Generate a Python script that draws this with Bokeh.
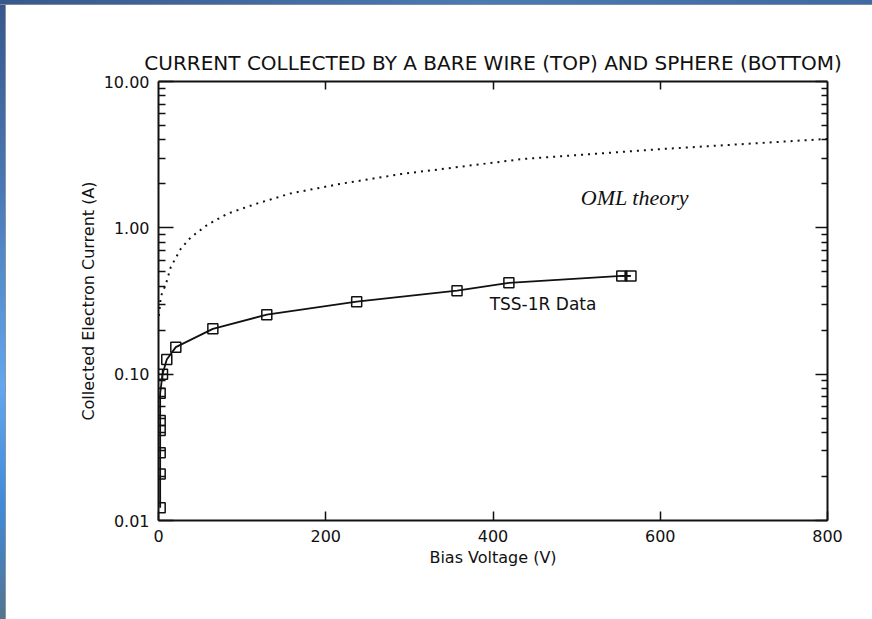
from bokeh.plotting import figure
from bokeh.models import LogAxis, LinearAxis, FixedTicker, PrintfTickFormatter, Label, Div, Range1d
from bokeh.layouts import row, column
from bokeh.embed import file_html
from bokeh.resources import INLINE

# TSS-1R measured current vs. bias voltage
tss_voltage = [2, 2, 2, 2, 2, 2, 4.8, 9.9, 20.7, 65, 129.5, 237, 357, 419, 554, 565]
tss_current = [0.0122, 0.0208, 0.029, 0.0412, 0.0482, 0.074, 0.100, 0.126, 0.153,
               0.204, 0.255, 0.313, 0.372, 0.421, 0.469, 0.469]
# points carrying an error cross
cross_voltage = [4.8, 558]
cross_current = [0.100, 0.469]

# OML theory curve
oml_voltage = [0.5, 2.75, 8.7, 14.7, 26.7, 38.6, 58.6, 82.5, 118.4, 158.2, 218, 290,
               437, 600, 784, 800]
oml_current = [0.25, 0.34, 0.41, 0.54, 0.72, 0.86, 1.05, 1.25, 1.47, 1.72, 2.0, 2.33,
               2.96, 3.45, 4.0, 4.05]

x_ticks = [0, 200, 400, 600, 800]
top_ticks = [200, 400, 600]
y_ticks = [0.01, 0.1, 1, 10]
y_minor = [k * d for d in (0.01, 0.1, 1) for k in range(2, 10)]

FONT = "DejaVu Sans"
INK = "#111111"

p = figure(frame_width=669, frame_height=439,
           x_range=Range1d(0, 800), y_range=Range1d(0.01, 10), y_axis_type="log",
           x_axis_location=None, y_axis_location=None,
           min_border_left=152, min_border_right=45, min_border_top=76, min_border_bottom=99,
           output_backend="svg", toolbar_location=None, margin=0,
           title="CURRENT COLLECTED BY A BARE WIRE (TOP) AND SPHERE (BOTTOM)")
p.outline_line_color = None
p.grid.visible = False
p.background_fill_color = "white"
p.border_fill_color = "white"
p.title.align = "center"
p.title.text_font = FONT
p.title.text_font_size = "20px"
p.title.text_font_style = "normal"
p.title.text_color = INK
p.title.standoff = 13


def style_axis(ax, tick_in, minor_in, show_labels):
    ax.axis_line_color = INK
    ax.axis_line_width = 2
    ax.major_tick_line_color = INK
    ax.major_tick_line_width = 1.5
    ax.minor_tick_line_color = INK
    ax.minor_tick_line_width = 1.5
    ax.major_tick_in = tick_in
    ax.major_tick_out = 0
    ax.minor_tick_in = minor_in
    ax.minor_tick_out = 0
    ax.major_label_text_font = FONT
    ax.major_label_text_color = INK
    ax.axis_label_text_font = FONT
    ax.axis_label_text_font_style = "normal"
    ax.axis_label_text_color = INK
    ax.axis_label_text_font_size = "16px"
    if show_labels:
        ax.major_label_text_font_size = "16px"
    else:
        # frame-side axis: ticks only
        ax.major_label_text_font_size = "1px"
        ax.major_label_text_color = None
        ax.major_label_standoff = 0


left = LogAxis(ticker=FixedTicker(ticks=y_ticks, minor_ticks=y_minor),
               formatter=PrintfTickFormatter(format="%.2f"),
               axis_label="Collected Electron Current (A)")
style_axis(left, 15, 7, True)
left.major_label_standoff = 9
left.axis_label_standoff = 3
p.add_layout(left, "left")

right = LogAxis(ticker=FixedTicker(ticks=y_ticks, minor_ticks=y_minor))
style_axis(right, 12, 6, False)
p.add_layout(right, "right")

bottom = LinearAxis(ticker=FixedTicker(ticks=x_ticks, minor_ticks=[]),
                    axis_label="Bias Voltage (V)")
style_axis(bottom, 9, 0, True)
bottom.major_label_standoff = 9
bottom.axis_label_standoff = 3
p.add_layout(bottom, "below")

top = LinearAxis(ticker=FixedTicker(ticks=top_ticks, minor_ticks=[]))
style_axis(top, 8, 0, False)
p.add_layout(top, "above")

# OML theory (dotted)
p.line(oml_voltage, oml_current, line_color=INK, line_width=2, line_dash="2 5")

# TSS-1R data
p.line(tss_voltage, tss_current, line_color=INK, line_width=1.8)
p.scatter(tss_voltage, tss_current, marker="square", size=10,
          line_color=INK, line_width=1.5, fill_alpha=0)
p.scatter(cross_voltage, cross_current, marker="cross", size=10,
          line_color=INK, line_width=1.5)

p.add_layout(Label(x=505, y=1.6, text="OML theory", text_font="Liberation Serif",
                   text_font_style="italic", text_font_size="22px",
                   text_baseline="middle", text_color=INK))
p.add_layout(Label(x=396, y=0.304, text="TSS-1R Data", text_font=FONT,
                   text_font_size="17px", text_baseline="middle", text_color=INK))

# slide frame strips
top_strip = Div(width=872, height=5, margin=0, styles={
    "background": "linear-gradient(to right, #39598c, #4a7ab4 55%, #3f6aa3)",
    "border-bottom": "1px solid #7d8c9c", "box-sizing": "border-box"})
left_strip = Div(width=6, height=614, margin=0, styles={
    "background": "linear-gradient(to bottom, #37588c 0%, #4a78b6 30%, #62a7ef 62%, "
                  "#3e8ad8 82%, #55748e 100%)",
    "border-right": "1px solid #8a96a2", "box-sizing": "border-box"})

layout = column(top_strip, row(left_strip, p, spacing=0, margin=0), spacing=0, margin=0)

open("out.html", "w").write(file_html(layout, INLINE))
